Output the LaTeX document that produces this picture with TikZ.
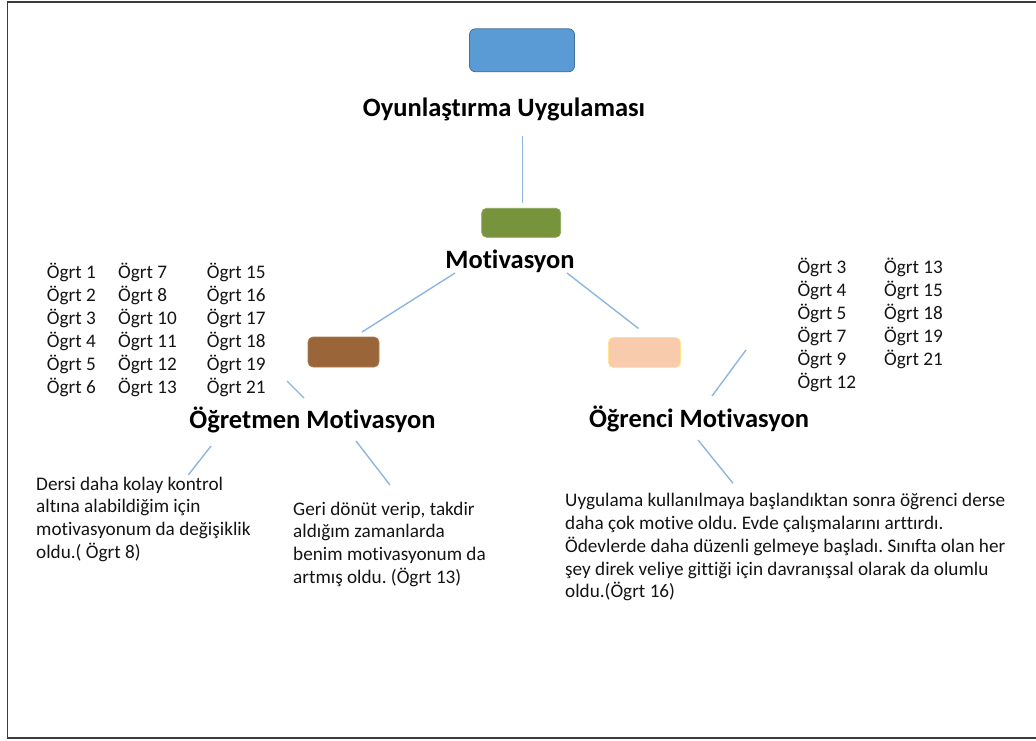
\documentclass[tikz,border=0pt]{standalone}
\usepackage{fontspec}
\setmainfont{Carlito}[RawFeature={-liga}]
\frenchspacing
\definecolor{linkblue}{HTML}{8DB5E0}
\definecolor{topblue}{HTML}{5B9BD5}
\definecolor{topblueline}{HTML}{41719C}
\definecolor{olive}{HTML}{77933C}
\definecolor{brownbox}{HTML}{9A6539}
\definecolor{peach}{HTML}{F8CBAD}
\definecolor{peachline}{HTML}{FFE38F}
\definecolor{textdark}{HTML}{141414}
\definecolor{frame}{HTML}{3C3C3C}
\begin{document}
\begin{tikzpicture}[x=1pt,y=-1pt,
  box/.style={rounded corners=5pt, line width=0.8pt},
  link/.style={draw=linkblue, line width=1.4pt},
  head/.style={font=\fontsize{26.5}{30}\selectfont\bfseries, anchor=base, inner sep=0pt, text=black},
  list/.style={font=\fontsize{19.2}{23}\selectfont, anchor=north west, inner sep=0pt, align=left, text=textdark},
  para/.style={font=\fontsize{19.2}{22.7}\selectfont, anchor=north west, inner sep=0pt, align=left, text=textdark},
]
\useasboundingbox (0,0) rectangle (1036,740);
% outer frame (right side runs past the page edge)
\draw[frame, line width=1.6pt] (1045,2) -- (7.5,2) -- (7.5,738) -- (1045,738);

% coloured boxes
\node[box, fill=topblue, draw=topblueline, minimum width=105pt, minimum height=43pt, rounded corners=6pt] (app) at (522,50.3) {};
\node[box, fill=olive, draw=olive!85!white, minimum width=79pt, minimum height=29pt] (mot) at (521.2,222.8) {};
\node[box, fill=brownbox, draw=brownbox!85!white, minimum width=71pt, minimum height=30pt] (tbox) at (343.5,352) {};
\node[box, fill=peach, draw=peachline, minimum width=72pt, minimum height=30pt] (sbox) at (644.5,352.5) {};

% headings
\node[head] (appt) at (504,116) {Oyunlaştırma Uygulaması};
\node[head] (mott) at (510,268.3) {Motivasyon};
\node[head] (tmot) at (312.5,428.3) {Öğretmen Motivasyon};
\node[head] (smot) at (699,427) {Öğrenci Motivasyon};

% teacher lists
\node[list] (tl1) at (46.7,261.9) {\strut Ögrt 1\\Ögrt 2\\Ögrt 3\\Ögrt 4\\Ögrt 5\\Ögrt 6};
\node[list] (tl2) at (118,261.9) {\strut Ögrt 7\\Ögrt 8\\Ögrt 10\\Ögrt 11\\Ögrt 12\\Ögrt 13};
\node[list] (tl3) at (206.7,261.9) {\strut Ögrt 15\\Ögrt 16\\Ögrt 17\\Ögrt 18\\Ögrt 19\\Ögrt 21};

% student lists
\node[list] (sl1) at (797.3,257.2) {\strut Ögrt 3\\Ögrt 4\\Ögrt 5\\Ögrt 7\\Ögrt 9\\Ögrt 12};
\node[list] (sl2) at (884,257.2) {\strut Ögrt 13\\Ögrt 15\\Ögrt 18\\Ögrt 19\\Ögrt 21};

% quotations
\node[para] (q1) at (36,474.1) {\strut Dersi daha kolay kontrol\\altına alabildiğim için\\motivasyonum da değişiklik\\oldu.( Ögrt 8)};
\node[para] (q2) at (293,499.1) {\strut Geri dönüt verip, takdir\\aldığım zamanlarda\\benim motivasyonum da\\artmış oldu. (Ögrt 13)};
\node[para] (q3) at (565,490.8) {\strut Uygulama kullanılmaya başlandıktan sonra öğrenci derse\\daha çok motive oldu. Evde çalışmalarını arttırdı.\\Ödevlerde daha düzenli gelmeye başladı. Sınıfta olan her\\şey direk veliye gittiği için davranışsal olarak da olumlu\\oldu.(Ögrt 16)};

% connector end points
\coordinate (a1) at (522.3,136);   \coordinate (a2) at (522.3,202.7);
\coordinate (b1) at (455,273);     \coordinate (b2) at (362,332);
\coordinate (c1) at (567,273);     \coordinate (c2) at (638.5,328.5);
\coordinate (d1) at (287,381);     \coordinate (d2) at (304,398);
\coordinate (e1) at (746,350);     \coordinate (e2) at (712,396);
\coordinate (f1) at (211,446);     \coordinate (f2) at (188.3,475);
\coordinate (g1) at (356,441);     \coordinate (g2) at (390,485);
\coordinate (h1) at (698,440);     \coordinate (h2) at (733,483.3);

\draw[link] (a1) -- (a2);
\draw[link] (b1) -- (b2);
\draw[link] (c1) -- (c2);
\draw[link] (d1) -- (d2);
\draw[link] (e1) -- (e2);
\draw[link] (f1) -- (f2);
\draw[link] (g1) -- (g2);
\draw[link] (h1) -- (h2);
\end{tikzpicture}
\end{document}
